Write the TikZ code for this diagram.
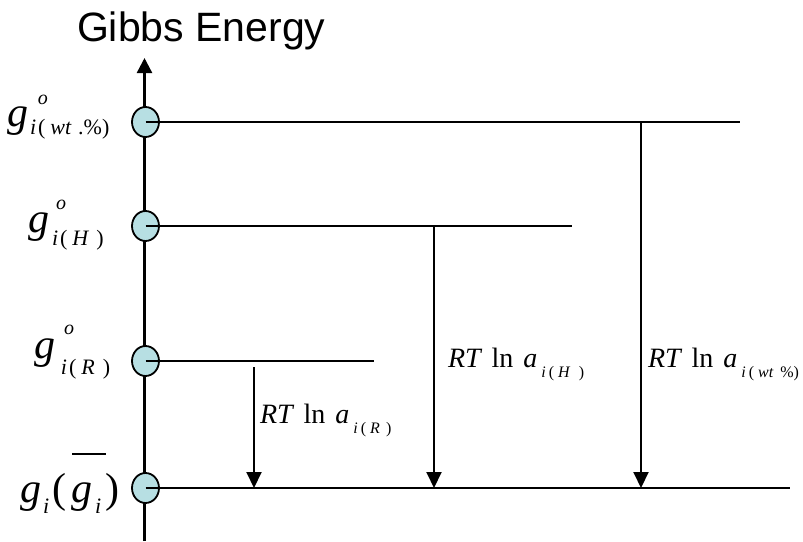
\documentclass[tikz,border=0pt]{standalone}
\usepackage{fontspec}
\setmainfont{Liberation Serif}
\newfontfamily\arialf{Liberation Sans}
\usetikzlibrary{arrows.meta,shapes.geometric}
\definecolor{dotfill}{RGB}{183,223,227}
\newcommand\fs[1]{\fontsize{#1}{#1}\selectfont}
\newcommand\rtln[1]{\fs{28}\itshape RT\hspace{11pt}\upshape ln\hspace{10pt}\itshape a\hspace{4pt}\raisebox{-10pt}{\fs{16}#1}}
\begin{document}
\begin{tikzpicture}[x=1pt,y=-1pt,
  axisline/.style={line width=2.4pt},
  levelline/.style={line width=2pt},
  droparrow/.style={line width=2pt,-{Triangle[width=15pt,length=16pt]}},
  dot/.style={ellipse,draw,line width=1.8pt,fill=dotfill,minimum width=27pt,minimum height=30pt,inner sep=0pt},
  lab/.style={anchor=base west,inner sep=0pt,outer sep=0pt}]
\useasboundingbox (0,0) rectangle (803,541);
% title
\node[lab] (title) at (77,41) {\arialf\fs{41}Gibbs Energy};
% axis
\coordinate (axbot) at (144.5,541);
\coordinate (axtop) at (144.5,58);
\draw[axisline,-{Triangle[width=15pt,length=15pt]}] (axbot) -- (axtop);
% dots
\node[dot] (d1) at (145.5,122) {};
\node[dot] (d2) at (145.5,226) {};
\node[dot] (d3) at (145.5,361) {};
\node[dot] (d4) at (145.5,488) {};
% level ends
\coordinate (e1) at (740,122);
\coordinate (e2) at (572,226);
\coordinate (e3) at (374,361);
\coordinate (e4) at (790,488);
\draw[levelline] (d1.center) -- (e1);
\draw[levelline] (d2.center) -- (e2);
\draw[levelline] (d3.center) -- (e3);
\draw[levelline] (d4.center) -- (e4);
% arrows
\coordinate (a1s) at (254,367);
\coordinate (a1e) at (254,488);
\coordinate (a2s) at (434,226);
\coordinate (a2e) at (434,488);
\coordinate (a3s) at (641,122);
\coordinate (a3e) at (641,488);
\draw[droparrow] (a1s) -- (a1e);
\draw[droparrow] (a2s) -- (a2e);
\draw[droparrow] (a3s) -- (a3e);
% left labels
\node[lab] (l1) at (7,126) {\fs{42}\itshape g\rlap{\hspace{10pt}\raisebox{22pt}{\fs{20}o}}\hspace{2pt}\raisebox{-8pt}{\fs{22}i\hspace{2pt}\upshape(\hspace{5pt}\itshape wt\hspace{7pt}\upshape.\%)}};
\node[lab] (l2) at (28,232) {\fs{42}\itshape g\rlap{\hspace{7pt}\raisebox{23pt}{\fs{20}o}}\hspace{3pt}\raisebox{-13pt}{\fs{22}i\hspace{2pt}\upshape(\hspace{5pt}\itshape H\hspace{8pt}\upshape)}};
\node[lab] (l3) at (34,358) {\fs{42}\itshape g\rlap{\hspace{9pt}\raisebox{24pt}{\fs{20}o}}\hspace{6pt}\raisebox{-16pt}{\fs{22}i\hspace{2pt}\upshape(\hspace{5pt}\itshape R\hspace{8pt}\upshape)}};
\node[lab] (l4) at (20,502) {\fs{42}\itshape g\hspace{2pt}\raisebox{-11pt}{\fs{22}i}\hspace{3pt}\upshape(\hspace{5pt}\rlap{\hspace{1pt}\rule[47pt]{34pt}{2pt}}\itshape g\hspace{3pt}\raisebox{-11pt}{\fs{22}i}\hspace{4pt}\upshape)};
% arrow labels
\node[lab] (r1) at (260,423) {\rtln{\itshape i\hspace{3pt}\upshape(\hspace{4pt}\itshape R\hspace{6pt}\upshape)}};
\node[lab] (r2) at (448,367) {\rtln{\itshape i\hspace{3pt}\upshape(\hspace{4pt}\itshape H\hspace{9pt}\upshape)}};
\node[lab] (r3) at (648,367) {\rtln{\itshape i\hspace{3pt}\upshape(\hspace{4pt}\itshape wt\hspace{7pt}\upshape\%)}};
\end{tikzpicture}
\end{document}
